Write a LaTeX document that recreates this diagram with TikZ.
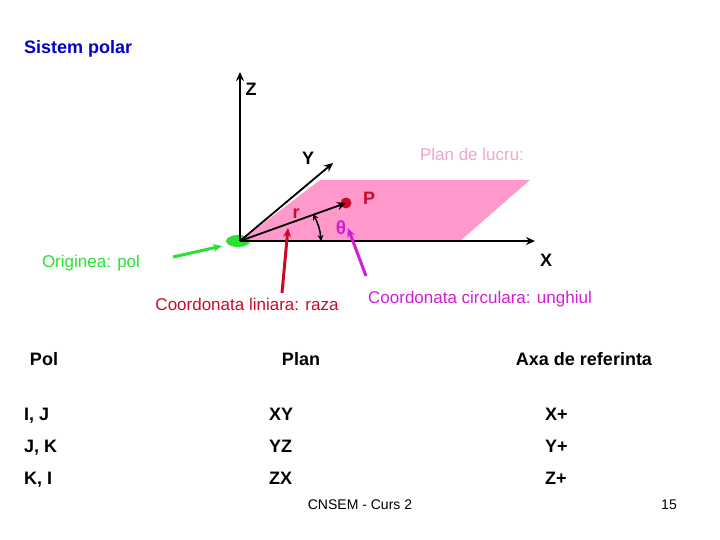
\documentclass[tikz,border=0pt]{standalone}
\usepackage{fontspec}
\setmainfont{Liberation Sans}
\usepackage{tikz}
\usetikzlibrary{arrows.meta,positioning,shapes.geometric}
\definecolor{planpink}{RGB}{255,153,204}
\definecolor{labelpink}{RGB}{240,165,205}
\definecolor{polgreen}{RGB}{40,225,50}
\definecolor{razared}{RGB}{204,10,40}
\definecolor{unghimag}{RGB}{210,30,210}
\definecolor{titleblue}{RGB}{0,0,200}
\begin{document}
\begin{tikzpicture}[
  x=1pt, y=-1pt,
  >={Stealth[length=9pt,width=8pt]},
  every node/.style={inner sep=0pt},
  lbl/.style={font=\fontsize{17}{19}\selectfont},
  axlbl/.style={font=\fontsize{18}{20}\selectfont\bfseries},
  tbl/.style={font=\fontsize{18}{20}\selectfont\bfseries},
  foot/.style={font=\fontsize{14}{16}\selectfont},
  axis/.style={->, line width=1.8pt},
  pointer/.style={->, line width=3pt},
]
  \useasboundingbox (0,0) rectangle (720,540);

  % plane and pole
  \fill[planpink] (320,180) -- (530,180) -- (460,241) -- (240,241) -- cycle;
  \node[fill=polgreen, ellipse, minimum width=24pt, minimum height=12pt] (pol) at (238,241) {};
  \node[fill=razared, circle, minimum size=11pt] (p) at (346,203) {};

  % axes
  \coordinate (o) at (240,241);
  \coordinate (ztip) at (240,72);
  \coordinate (ytip) at (333,163);
  \coordinate (xtip) at (535,241);
  \draw[axis] (o) -- (ztip);
  \draw[axis] (o) -- (ytip);
  \draw[axis] (o) -- (xtip);
  \draw[axis] (o) -- (p.center);

  % angle
  \coordinate (a1) at (313,214);
  \coordinate (a2) at (321,241);
  \draw[<->, line width=1.5pt, >={Stealth[length=6pt,width=6pt]}] (a1) to[bend left=12] (a2);

  % labels on the axes
  \node[axlbl] (z) at (251,89) {Z};
  \node[axlbl] (y) at (308,158) {Y};
  \node[axlbl] (x) at (546,260) {X};
  \node[axlbl, text=razared] (plabel) at (369,198) {P};
  \node[axlbl, text=razared] (r) at (296,214) {r};
  \node[axlbl, text=unghimag, font=\fontsize{19}{20}\selectfont\bfseries] (theta) at (341,228) {θ};
  \node[lbl, text=labelpink] (plan) at (472,154) {Plan de lucru:};

  % callouts
  \node[text=titleblue, font=\fontsize{18}{20}\selectfont\bfseries, anchor=west] (title) at (24,49) {Sistem polar};
  \node[lbl, text=polgreen] (orig) at (91,263) {Originea: pol};
  \node[lbl, text=razared] (raza) at (247,304) {Coordonata liniara: raza};
  \node[lbl, text=unghimag] (unghi) at (480,299) {Coordonata circulara: unghiul};
  \coordinate (g0) at (173,257);
  \coordinate (g1) at (222,246);
  \coordinate (r0) at (282,293);
  \coordinate (r1) at (288,228);
  \coordinate (m0) at (366,276);
  \coordinate (m1) at (348,228);
  \draw[pointer, polgreen] (g0) -- (g1);
  \draw[pointer, razared] (r0) -- (r1);
  \draw[pointer, unghimag] (m0) -- (m1);

  % table
  \node[tbl, anchor=base] (h1) at (44,365) {Pol};
  \node[tbl, anchor=base] (h2) at (301,365) {Plan};
  \node[tbl, anchor=base] (h3) at (584,365) {Axa de referinta};
  \node[tbl, anchor=base west] (a) at (24,420) {I, J};
  \node[tbl, anchor=base west] (b) at (24,452) {J, K};
  \node[tbl, anchor=base west] (c) at (24,484) {K, I};
  \node[tbl, anchor=base west] (d) at (269,420) {XY};
  \node[tbl, anchor=base west] (e) at (269,452) {YZ};
  \node[tbl, anchor=base west] (f) at (269,484) {ZX};
  \node[tbl, anchor=base west] (g) at (545,420) {X+};
  \node[tbl, anchor=base west] (h) at (545,452) {Y+};
  \node[tbl, anchor=base west] (i) at (545,484) {Z+};

  % footer
  \node[foot] (curs) at (360,505) {CNSEM - Curs 2};
  \node[foot] (nr) at (669,505) {15};
\end{tikzpicture}
\end{document}
